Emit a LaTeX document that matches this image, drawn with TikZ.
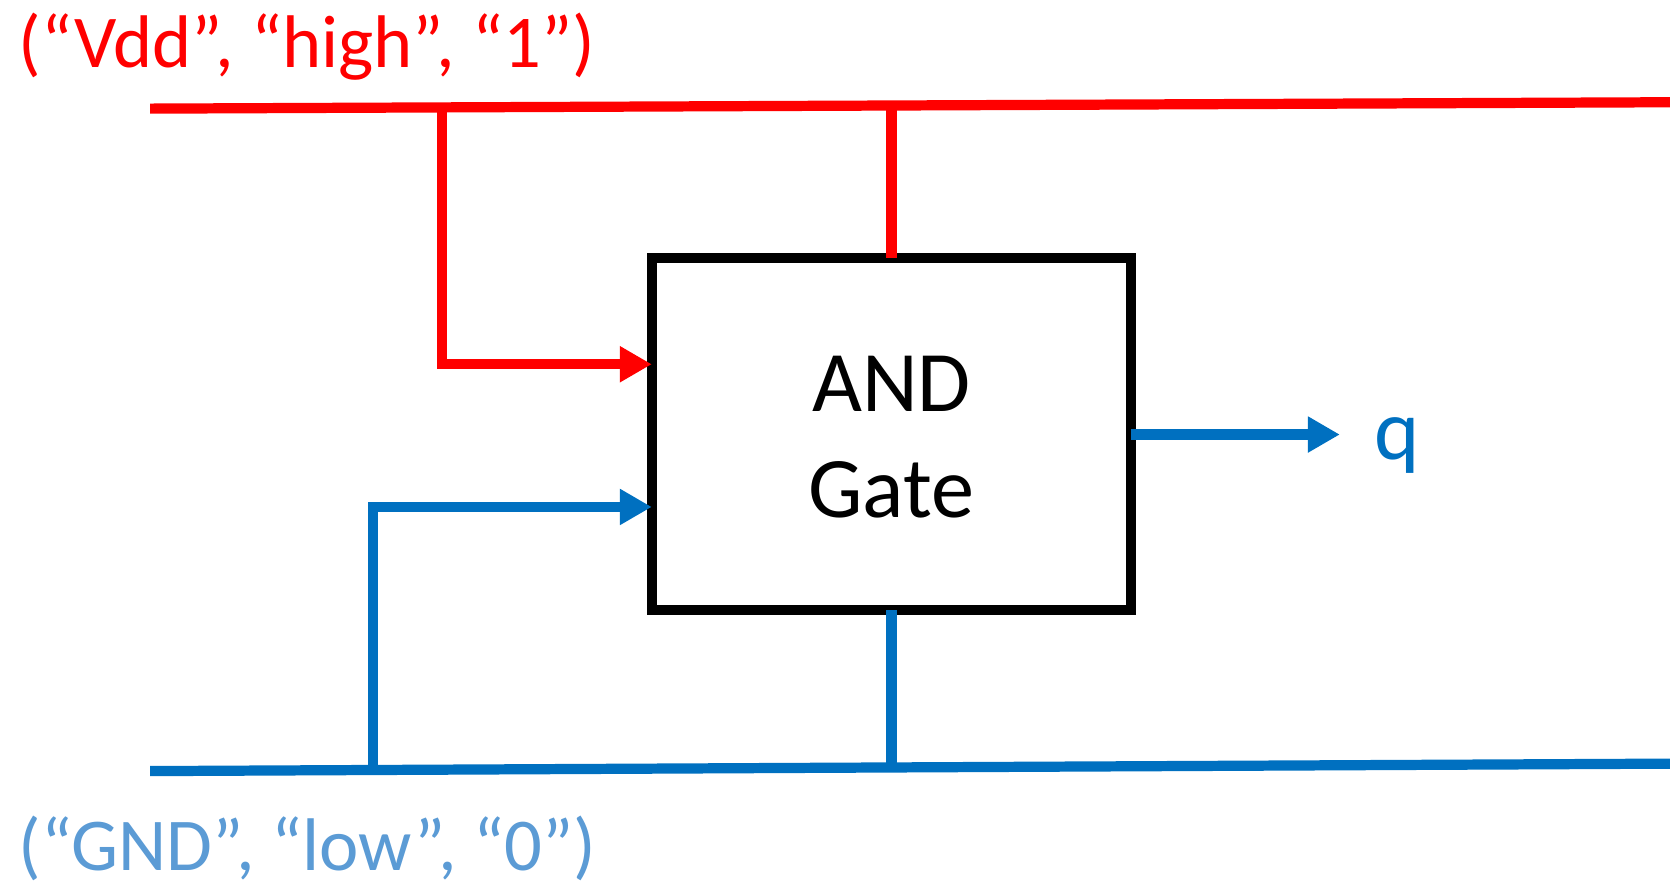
\documentclass[tikz,border=0pt]{standalone}
\usepackage{fontspec}
\setmainfont{Carlito}
\usetikzlibrary{arrows.meta}
\definecolor{vred}{HTML}{FF0000}
\definecolor{gblue}{HTML}{0070C0}
\definecolor{lblue}{HTML}{5B9BD5}
\begin{document}
\begin{tikzpicture}[x=0.5pt,y=-0.5pt,
  wire/.style={line width=4.8pt},
  arr/.style={-{Triangle[length=15pt,width=16pt]}},
  bigtext/.style={font=\fontsize{40.5}{50}\selectfont},
  lbltext/.style={font=\fontsize{35}{40}\selectfont, inner sep=0pt},
]
\useasboundingbox (0,0) rectangle (1568,833);
% gate
\node[draw, line width=4.8pt, outer sep=0pt, minimum width=225pt, minimum height=165.5pt,
      inner sep=0pt] (gate) at (837,407.5) {};
\node[align=center, bigtext, inner sep=0pt] (gatelbl) at (837,410.5) {AND\\Gate};
% supply rails
\coordinate (vddL) at (141,102);
\coordinate (vddR) at (1568,96);
\coordinate (vj1) at (415,100.8);
\coordinate (vj2) at (837,99.1);
\coordinate (rc) at (415,342);
\coordinate (gndL) at (141,724);
\coordinate (gndR) at (1568,717);
\coordinate (gj1) at (350,723);
\coordinate (gj2) at (837,720.6);
\coordinate (bc) at (350,476);
\coordinate (qtip) at (1258,408);
\draw[wire, vred] (vddL) -- (vddR);
\draw[wire, gblue] (gndL) -- (gndR);
% red connections
\draw[wire, vred] (vj2) -- (gate.north);
\draw[wire, vred, arr] (vj1) -- (rc) -- (rc -| gate.west);
% blue connections
\draw[wire, gblue] (gate.south) -- (gj2);
\draw[wire, gblue, arr] (gj1) -- (bc) -- (bc -| gate.west);
\draw[wire, gblue, arr] (gate.east |- qtip) -- (qtip);
% labels
\node[anchor=base west, text=gblue, bigtext, inner sep=0pt] (q) at (1290,431) {q};
\node[anchor=base west, text=vred, lbltext] (vdd) at (17,63) {(“Vdd”, “high”, “1”)};
\node[anchor=base west, text=lblue, lbltext] (gnd) at (17,817) {(“GND”, “low”, “0”)};
\end{tikzpicture}
\end{document}
